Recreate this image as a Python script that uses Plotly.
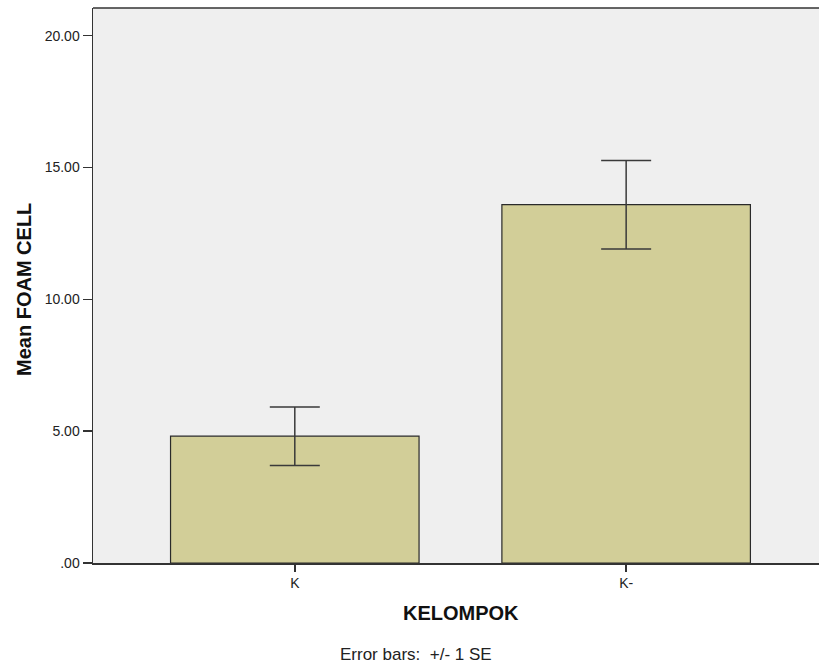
import plotly.graph_objects as go

categories = ["K", "K-"]
means = [4.81, 13.59]
se = [1.11, 1.68]
y_tick_vals = [0, 5, 10, 15, 20]
y_tick_text = [".00", "5.00", "10.00", "15.00", "20.00"]

FONT = "Liberation Sans, Arial, sans-serif"

fig = go.Figure()
fig.add_trace(go.Bar(
    x=[0, 1], y=means, width=0.75,
    marker=dict(color="#D2CE98", line=dict(color="#2a2a2a", width=1.2)),
    error_y=dict(type="data", array=se, visible=True, color="#3a3a3a", thickness=1.5, width=25),
    showlegend=False,
))

fig.update_layout(
    width=819, height=669,
    margin=dict(l=92.5, r=0, t=8, b=106),
    paper_bgcolor="white", plot_bgcolor="#EFEFEF",
    font=dict(family=FONT, size=14, color="#222"),
    bargap=0,
)
fig.update_xaxes(
    range=[-0.609, 1.582], tickvals=[0, 1], ticktext=categories,
    ticks="outside", ticklen=7, tickcolor="#333", tickwidth=1.5,
    showline=True, linecolor="#333", linewidth=1.5, mirror=False,
    showgrid=False, zeroline=False, tickfont=dict(size=14, color="#222"),
)
fig.update_yaxes(
    range=[0, 21.05], tickvals=y_tick_vals, ticktext=y_tick_text,
    ticks="outside", ticklen=9, tickcolor="#333", tickwidth=1.5,
    showline=True, linecolor="#333", linewidth=1.5,
    showgrid=False, zeroline=False, tickfont=dict(size=14, color="#222"),
)
# top border of the plot frame
fig.add_shape(type="line", xref="paper", yref="paper", x0=0, x1=1, y0=1, y1=1,
              line=dict(color="#333", width=1.5))

fig.add_annotation(text="<b>Mean FOAM CELL</b>", xref="paper", yref="paper",
                   x=0, y=0.5, xanchor="center", yanchor="middle", xshift=-69.5,
                   yshift=-4, textangle=-90, showarrow=False,
                   font=dict(size=20, color="#111"))
fig.add_annotation(text="<b>KELOMPOK</b>", xref="paper", yref="paper",
                   x=(461 - 92.5) / 726.5, y=0, xanchor="center", yanchor="middle",
                   yshift=-50, showarrow=False,
                   font=dict(size=20, color="#111"))
fig.add_annotation(text="Error bars:  +/- 1 SE", xref="paper", yref="paper",
                   x=(416 - 92.5) / 726.5, y=0, xanchor="center", yanchor="middle",
                   yshift=-91, showarrow=False,
                   font=dict(size=17, color="#222"))

fig.write_html("out.html", config={"displayModeBar": False, "staticPlot": True},
               post_script="document.body.style.margin='0';document.body.style.overflow='hidden';"
                           "document.documentElement.style.overflow='hidden';")
